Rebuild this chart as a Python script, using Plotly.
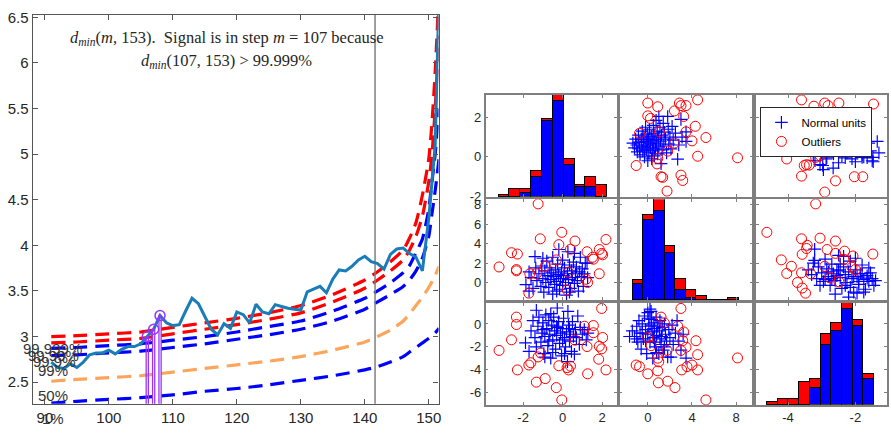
import plotly.graph_objects as go

W, H = 891, 435

# ---------------- left panel: d_min monitoring ----------------
m_steps = list(range(91, 153))
dmin_values = [2.72, 2.66, 2.65, 2.70, 2.66, 2.72, 2.80, 2.82, 2.82, 2.85,
               2.81, 2.86, 2.89, 2.89, 2.92, 3.00, 3.08, 3.23, 3.15, 3.12,
               3.13, 3.28, 3.42, 3.36, 3.22, 3.08, 3.02, 3.14, 3.09, 3.27,
               3.24, 3.15, 3.355, 3.27, 3.25, 3.35, 3.33, 3.31, 3.30, 3.29,
               3.49, 3.52, 3.55, 3.48, 3.63, 3.73, 3.72, 3.77, 3.84, 3.88,
               3.82, 3.80, 3.74, 3.90, 3.96, 3.97, 3.91, 3.87, 3.72, 4.30,
               5.10, 7.90]

env_m = [91, 95, 100, 105, 110, 115, 120, 125, 130, 135, 140, 142, 144, 146,
         147, 148, 149, 150, 150.5, 151, 151.6]
env_99999 = [3.00, 3.01, 3.03, 3.05, 3.10, 3.15, 3.20, 3.26, 3.34, 3.46, 3.62,
             3.71, 3.82, 3.95, 4.08, 4.25, 4.55, 4.95, 5.35, 5.90, 6.80]
env_9999 = [2.93, 2.94, 2.96, 2.98, 3.03, 3.08, 3.13, 3.19, 3.26, 3.38, 3.53,
            3.62, 3.72, 3.84, 3.95, 4.10, 4.32, 4.70, 5.00, 5.50, 6.30]
env_999 = [2.87, 2.88, 2.90, 2.92, 2.96, 3.00, 3.05, 3.11, 3.17, 3.28, 3.42,
           3.50, 3.59, 3.70, 3.78, 3.92, 4.07, 4.40, 4.70, 5.00, 5.50]
env_99 = [2.79, 2.80, 2.82, 2.84, 2.88, 2.92, 2.97, 3.02, 3.08, 3.17, 3.30,
          3.38, 3.46, 3.55, 3.62, 3.72, 3.86, 4.10, 4.35, 4.60, 4.95]
env_50 = [2.51, 2.53, 2.55, 2.57, 2.61, 2.65, 2.69, 2.73, 2.78, 2.85, 2.94,
          3.00, 3.07, 3.17, 3.25, 3.34, 3.43, 3.54, 3.60, 3.67, 3.77]
env_1 = [2.27, 2.29, 2.31, 2.33, 2.36, 2.40, 2.43, 2.47, 2.52, 2.57, 2.635,
         2.67, 2.72, 2.78, 2.83, 2.88, 2.93, 2.98, 3.01, 3.04, 3.09]

env_labels = ["99.999%", "99.99%", "99.9%", "99%", "50%", "1%"]
env_label_y = [2.87, 2.79, 2.73, 2.625, 2.355, 2.27]
env_label_xshift = [-23.5, -18.5, -13.5, -8.5, -8.5, -4.5]
env_label_yshift = [0, 0, 0, 0, 0, -15.5]

signal_steps = [106, 107, 108]
vline_step = 141.6
x_ticks_left = [90, 100, 110, 120, 130, 140, 150]
y_ticks_left = [2.5, 3, 3.5, 4, 4.5, 5, 5.5, 6, 6.5]
y_ticktext_left = ["2.5", "3", "3.5", "4", "4.5", "5", "5.5", "6", "6.5"]

# ---------------- right panel: scatter matrix ----------------
hist1_edges = [-3.26, -2.71, -2.16, -1.61, -1.06, -0.51, 0.04, 0.59, 1.13, 1.68, 2.23]
hist1_normal = [0, 0, 2, 10, 38, 48, 16, 5, 5, 0]
hist1_outlier = [1, 4, 2, 3, 1, 3, 3, 1, 5, 6]

hist2_edges = [-1.41, -0.45, 0.52, 1.48, 2.44, 3.40, 4.36, 5.32, 6.28, 7.24, 8.20]
hist2_normal = [8, 41, 46, 24, 5, 1, 0, 0, 0, 0]
hist2_outlier = [2, 3, 6, 4, 6, 4, 2, 0, 0, 1]

hist3_edges = [-4.64, -4.32, -4.00, -3.68, -3.36, -3.04, -2.72, -2.40, -2.08, -1.77, -1.46]
hist3_normal = [0, 0, 0, 0, 6, 21, 26, 34, 28, 9]
hist3_outlier = [1, 2, 2, 8, 3, 4, 3, 2, 2, 2]

normal_12 = [(-1.35, 0.7), (-1.2, 0.45), (-1.1, 0.9), (-1.0, 0.6), (-0.95, 0.25), (-0.85, 1.1),
             (-0.8, 0.75), (-0.75, 0.4), (-0.7, 0.1), (-0.6, 0.9), (-0.55, 0.55), (-0.5, 1.3),
             (-0.45, 0.3), (-0.4, 0.75), (-0.35, 1.0), (-0.3, 0.0), (-0.25, 0.5), (-0.2, 1.5),
             (-0.15, 0.8), (-0.1, 0.35), (-0.05, 1.15), (0.0, 0.6), (0.0, -0.2), (0.05, 0.9),
             (0.1, 0.2), (0.15, 1.4), (0.2, 0.7), (0.25, 0.45), (0.3, 1.05), (0.35, -0.1),
             (0.4, 0.85), (0.45, 0.3), (0.5, 1.6), (0.5, 0.6), (0.55, 1.2), (0.6, 0.05),
             (0.65, 0.9), (0.7, 0.4), (0.75, 1.85), (0.8, 0.7), (0.85, 1.3), (0.9, 0.15),
             (0.95, 1.0), (1.0, 2.05), (1.0, 0.5), (1.1, 1.5), (1.15, 0.8), (1.2, -0.35),
             (1.25, 1.1), (1.3, 0.35), (1.4, 1.7), (1.45, 0.6), (1.5, 1.25), (1.6, 0.9),
             (1.7, 0.2), (1.8, 2.05), (1.85, 1.4), (1.9, 0.65), (2.0, 1.0), (2.1, 0.4),
             (2.2, 1.55), (2.3, 0.85), (2.5, 1.2), (2.7, -0.12), (2.8, 0.6), (3.0, 1.9),
             (3.1, 1.0), (3.46, 1.27), (3.46, 0.78)]
outlier_12 = [(0.0, 2.73), (0.9, 2.54), (2.86, 2.73), (3.0, 2.6), (3.46, 2.6), (4.51, 2.89),
              (2.41, 2.33), (3.25, 2.05), (0.0, 2.08), (0.24, 1.95), (4.3, 1.55), (3.46, 1.27),
              (1.05, 1.27), (-0.75, 1.19), (5.26, 0.98), (4.0, 0.81), (2.41, 0.70), (1.8, 0.29),
              (4.51, 0.03), (8.12, -0.05), (0.9, -0.08), (-1.05, -0.44), (0.84, -0.36),
              (1.2, -1.01), (1.35, -1.04), (3.0, -0.93), (3.16, -1.2), (1.74, -1.74)]

normal_13 = [(-3.4, 0.3), (-3.3, 0.6), (-3.25, 0.1), (-3.2, -0.2), (-3.15, 0.75), (-3.1, 0.45),
             (-3.0, 0.2), (-2.95, 0.9), (-2.9, 0.55), (-2.85, -0.05), (-2.8, 0.35), (-2.75, 1.2),
             (-2.7, 0.7), (-2.65, 0.15), (-2.6, 0.5), (-2.55, 1.0), (-2.5, 0.3), (-2.45, 0.75),
             (-2.4, 0.05), (-2.35, 1.4), (-2.3, 0.55), (-2.25, 0.2), (-2.2, 0.9), (-2.15, 0.4),
             (-2.1, -0.1), (-2.05, 0.65), (-2.0, 1.1), (-1.95, 0.25), (-1.9, 0.5), (-1.85, 0.8),
             (-1.8, 0.1), (-1.75, 1.3), (-1.7, 0.45), (-1.65, -0.05), (-1.6, 0.7), (-1.55, 0.3),
             (-1.47, -0.25), (-1.35, 0.78), (-1.3, 0.2), (-3.05, -0.4), (-2.95, -0.65),
             (-2.5, -0.3), (-2.3, -0.05), (-2.0, -0.25), (-1.75, 0.0), (-1.5, -0.2),
             (-2.97, -0.44), (-2.66, -0.57), (-2.87, -0.11), (-1.8, -0.03), (-1.48, -0.03)]
outlier_13 = [(-3.6, 2.89), (-3.23, 2.57), (-2.91, 2.73), (-2.81, 2.6), (-2.49, 2.73),
              (-1.46, 2.68), (-4.19, 0.70), (-3.89, 0.26), (-4.04, -0.11), (-3.45, -0.4),
              (-3.37, -0.42), (-3.52, -0.44), (-3.18, -0.03), (-3.04, 0.05), (-3.6, -0.98),
              (-2.91, -1.79), (-2.59, -1.22), (-2.03, -1.01), (-1.78, -1.01), (-3.42, 0.85)]

normal_21 = [(-1.86, -0.23), (-1.7, 1.1), (-1.6, 0.5), (-1.5, -0.6), (-1.4, 2.67), (-1.36, 1.5),
             (-1.3, 0.2), (-1.2, 0.9), (-1.1, -0.4), (-1.05, 1.7), (-1.0, 0.4), (-0.95, -1.0),
             (-0.9, 1.2), (-0.85, 0.0), (-0.8, 2.2), (-0.75, 0.7), (-0.7, -0.5), (-0.65, 1.5),
             (-0.6, 0.3), (-0.55, 1.0), (-0.5, -1.2), (-0.5, 2.6), (-0.45, 0.6), (-0.4, -0.2),
             (-0.35, 1.3), (-0.3, 0.1), (-0.25, 1.9), (-0.2, 0.8), (-0.19, 3.4), (-0.15, -0.7),
             (-0.1, 0.4), (-0.05, 1.1), (0.0, -0.3), (0.0, 2.3), (0.05, 0.7), (0.1, 1.5),
             (0.15, 0.0), (0.2, -1.3), (0.25, 0.9), (0.27, 3.17), (0.3, 0.3), (0.35, 1.8),
             (0.4, -0.6), (0.45, 1.2), (0.5, 0.5), (0.55, 2.1), (0.6, -0.1), (0.65, 0.9),
             (0.7, 1.6), (0.75, 0.2), (0.8, -0.9), (0.85, 1.1), (0.9, 2.6), (0.95, 0.6),
             (1.0, 1.4), (1.05, -0.4), (1.1, 0.9), (1.15, 2.0), (1.24, 2.0), (1.27, 0.5),
             (-1.0, 2.5), (0.6, 3.0), (-0.3, -0.9), (0.35, -1.0), (-1.7, -0.9)]
outlier_21 = [(-3.22, 1.6), (-2.59, 3.07), (-2.29, 2.93), (-2.34, 1.33), (-2.34, 1.2),
              (-1.66, 0.9), (-1.71, -1.1), (-1.24, 8.1), (-1.13, 4.5), (-1.33, 0.9),
              (-0.88, 1.67), (-0.32, 2.33), (-0.19, 3.9), (-0.04, 5.17), (0.4, 3.43),
              (0.63, 4.27), (0.23, -0.77), (0.3, 1.07), (1.24, 3.17), (1.19, 0.33),
              (1.27, 0.0), (1.56, 2.4), (1.52, 2.6), (1.86, 3.4), (1.98, 3.0), (2.03, 2.85),
              (2.2, 4.43), (1.86, 0.9)]

normal_23 = [(-3.4, 1.3), (-3.3, 0.8), (-3.25, 2.0), (-3.21, 3.43), (-3.21, 2.27), (-3.15, 0.4),
             (-3.1, 1.6), (-3.0, 1.0), (-2.95, 0.1), (-2.9, 2.4), (-2.85, 1.4), (-2.8, 0.6),
             (-2.75, -0.3), (-2.7, 1.9), (-2.65, 0.9), (-2.6, 0.2), (-2.55, 1.2), (-2.5, 2.8),
             (-2.45, 0.5), (-2.4, -0.6), (-2.35, 1.6), (-2.3, 0.8), (-2.25, 0.0), (-2.2, 1.1),
             (-2.15, 2.2), (-2.1, 0.4), (-2.05, -1.0), (-2.0, 1.3), (-1.95, 0.6), (-1.9, -0.2),
             (-1.85, 0.9), (-1.8, 1.8), (-1.75, 0.3), (-1.7, -0.7), (-1.65, 0.7), (-1.6, 0.1),
             (-1.55, 1.0), (-1.5, 0.4), (-1.45, -0.3), (-1.4, 0.2), (-2.6, -1.2), (-2.2, -1.5),
             (-1.95, -1.1), (-2.45, 1.9), (-2.7, 0.4), (-2.3, -0.3), (-2.05, 0.6), (-1.8, 0.9),
             (-2.5, 1.3), (-2.9, 0.3), (-3.05, -0.3), (-2.35, 2.7), (-2.0, 2.5), (-1.6, 1.5),
             (-2.15, -0.5), (-1.75, -1.0), (-2.8, 1.1), (-2.55, 0.7), (-1.9, 0.1), (-1.65, 0.45)]
outlier_23 = [(-4.63, 5.17), (-4.2, 2.33), (-3.9, 1.67), (-4.04, 0.93), (-3.72, 0.0),
              (-3.58, -0.57), (-3.48, -1.1), (-3.58, 2.9), (-3.6, 4.5), (-3.43, 3.83),
              (-3.45, 3.5), (-3.6, 1.0), (-3.33, 0.9), (-3.18, 8.1), (-3.05, 4.57),
              (-2.84, 3.4), (-2.91, 1.67), (-2.59, 4.27), (-2.59, 3.0), (-2.32, 3.23),
              (-2.07, 2.73), (-2.1, 1.57), (-2.0, 1.33), (-2.76, 0.5), (-2.49, 0.07),
              (-2.34, 2.4), (-1.48, 2.93)]

normal_31 = [(-1.88, -1.65), (-1.7, -2.4), (-1.6, -0.6), (-1.5, 0.3), (-1.4, -1.2), (-1.33, -2.0),
             (-1.33, 1.2), (-1.25, -0.2), (-1.2, 0.6), (-1.1, -1.6), (-1.05, -0.8), (-1.0, 0.1),
             (-0.95, -2.6), (-0.9, -1.1), (-0.85, 0.8), (-0.8, -0.4), (-0.75, -1.9), (-0.7, 0.3),
             (-0.65, -0.9), (-0.6, -3.0), (-0.55, -0.1), (-0.5, -1.4), (-0.45, 0.6), (-0.4, -0.6),
             (-0.35, -2.2), (-0.3, -1.0), (-0.27, 1.4), (-0.25, -0.3), (-0.2, 0.2), (-0.15, -1.7),
             (-0.1, -0.8), (-0.05, -2.8), (0.0, -0.4), (0.05, 0.5), (0.1, -1.2), (0.15, -2.0),
             (0.2, -0.7), (0.25, -3.3), (0.27, 1.1), (0.3, -0.1), (0.35, -1.5), (0.4, -0.9),
             (0.45, -2.4), (0.5, 0.2), (0.55, -1.1), (0.6, -2.65), (0.65, -0.5), (0.7, -1.2),
             (0.77, 0.7), (0.85, -1.8), (0.9, -0.3), (1.0, -0.9), (1.1, -0.5), (1.2, -1.4),
             (1.28, -0.8), (-0.9, -2.9), (-0.5, -2.5), (0.1, -2.6), (-1.0, -0.5), (-0.6, 0.9),
             (-0.3, -0.2), (0.0, -1.4), (-0.7, -1.5), (0.35, -0.4)]
outlier_31 = [(-3.22, -2.32), (-2.34, 0.6), (-2.34, -0.05), (-2.59, -1.39), (-2.29, -4.03),
              (-1.71, -3.6), (-1.61, -3.4), (-1.24, -2.89), (-1.11, -2.55), (-1.33, -5.1),
              (-0.88, -4.79), (-0.32, -5.58), (-0.04, -6.66), (-0.19, -3.66), (0.23, -3.83),
              (0.3, -4.03), (0.4, -3.7), (0.63, -1.42), (1.11, -0.2), (1.24, -1.98),
              (1.27, -4.37), (1.56, -0.14), (1.56, -0.77), (1.86, -1.96), (1.98, -2.18),
              (2.03, -1.19), (1.83, -3.09), (1.98, 1.36), (2.2, -4.03)]

normal_32 = [(-1.65, -1.1), (-1.4, -0.6), (-1.2, -1.1), (-1.0, -0.2), (-0.9, -1.6), (-0.8, 0.3),
             (-0.7, -0.8), (-0.6, -2.2), (-0.5, 0.0), (-0.4, -1.3), (-0.3, 0.7), (-0.2, -0.5),
             (-0.1, -2.6), (0.0, -0.9), (0.0, 1.0), (0.1, -0.2), (0.2, -1.6), (0.3, 1.1),
             (0.35, 0.4), (0.4, -0.7), (0.45, -3.0), (0.5, -1.2), (0.55, 0.1), (0.6, -0.4),
             (0.7, -2.0), (0.75, 0.6), (0.8, -1.0), (0.9, -0.2), (1.0, -2.6), (1.05, -0.6),
             (1.1, 0.3), (1.2, -1.8), (1.25, -1.1), (1.3, -0.3), (1.4, -2.3), (1.5, 0.0),
             (1.6, -0.9), (1.7, -1.5), (1.8, -2.9), (1.9, -0.5), (2.0, -1.2), (2.1, -2.9),
             (2.2, -0.1), (2.3, -1.8), (2.5, -0.8), (2.65, 0.3), (2.8, -1.5), (3.0, -2.3),
             (3.2, -0.9), (3.46, -3.0), (-0.2, -1.5), (0.3, -0.1), (0.6, -1.6), (-0.5, -0.8),
             (0.1, 0.5), (1.1, -1.3), (-1.0, -1.3), (0.8, -2.5), (0.2, 1.3), (1.5, -2.0)]
outlier_32 = [(-1.05, -3.6), (-0.75, -3.74), (0.0, -4.37), (0.9, -4.11), (0.99, -3.32),
              (0.96, -5.16), (0.9, -3.0), (0.0, -1.19), (0.3, -1.9), (1.2, 0.6), (1.5, 0.09),
              (1.8, -5.02), (1.74, -2.32), (2.46, -5.58), (2.71, -0.2), (3.0, 1.36),
              (3.25, -0.7), (3.16, -1.47), (3.46, -2.04), (3.0, -2.32), (3.07, -4.03),
              (3.55, -3.74), (4.0, -3.6), (4.36, -1.47), (4.51, -2.69), (4.51, -4.03),
              (5.26, -6.66), (8.12, -2.98)]

# ---------------- styling constants ----------------
C_RED = "#ff0000"
C_BLUE = "#0000ff"
C_ORANGE = "#fba65c"
C_LINE = "#1a7db8"
C_PURPLE = "#9933ff"
TXT = "#262626"
SANS = "Liberation Sans, Arial, sans-serif"
SERIF = "Liberation Serif, Times New Roman, serif"

fig = go.Figure()

# envelopes
for vals, col in [(env_99999, C_RED), (env_9999, C_RED), (env_999, C_BLUE),
                  (env_99, C_BLUE), (env_50, C_ORANGE), (env_1, C_BLUE)]:
    fig.add_trace(go.Scatter(x=env_m, y=vals, mode="lines", xaxis="x", yaxis="y",
                             line=dict(color=col, width=3.2, dash="14px,8px",
                                       shape="spline", smoothing=0.6),
                             showlegend=False, hoverinfo="skip"))

# vertical reference line
fig.add_trace(go.Scatter(x=[vline_step, vline_step], y=[2.0, 7.0], mode="lines",
                         xaxis="x", yaxis="y", line=dict(color="#7f7f7f", width=1.5),
                         showlegend=False, hoverinfo="skip"))

# monitored d_min
fig.add_trace(go.Scatter(x=m_steps, y=dmin_values, mode="lines", xaxis="x", yaxis="y",
                         line=dict(color=C_LINE, width=3), showlegend=False))

# signal stems and circles
sig_vals = [dmin_values[m_steps.index(s)] for s in signal_steps]
for s, v in zip(signal_steps, sig_vals):
    fig.add_trace(go.Scatter(x=[s - 0.17, s - 0.17, s + 0.17, s + 0.17], y=[2.0, v, v, 2.0],
                             mode="lines", xaxis="x", yaxis="y",
                             line=dict(color=C_PURPLE, width=1.3),
                             showlegend=False, hoverinfo="skip"))
fig.add_trace(go.Scatter(x=signal_steps, y=sig_vals, mode="markers", xaxis="x", yaxis="y",
                         marker=dict(symbol="circle-open", size=10, color=C_PURPLE,
                                     line=dict(width=1.5, color=C_PURPLE)),
                         showlegend=False))

annotations = []
for lab, yv, xs, ys in zip(env_labels, env_label_y, env_label_xshift, env_label_yshift):
    annotations.append(dict(x=90, y=yv, xref="x", yref="y", text=lab, showarrow=False,
                            xanchor="left", yanchor="middle", xshift=xs, yshift=ys,
                            font=dict(family=SANS, size=15, color="#333333")))
annotations.append(dict(x=118.44, y=6.27, xref="x", yref="y", showarrow=False,
                        text="<i>d</i><sub><i>min</i></sub>(<i>m</i>, 153).  Signal is in step <i>m</i> = 107 because",
                        font=dict(family=SERIF, size=16.5, color=TXT)))
annotations.append(dict(x=118.44, y=6.02, xref="x", yref="y", showarrow=False,
                        text="<i>d</i><sub><i>min</i></sub>(107, 153) &gt; 99.999%",
                        font=dict(family=SERIF, size=16.5, color=TXT)))

layout = dict(
    width=W, height=H, margin=dict(l=0, r=0, t=0, b=0),
    paper_bgcolor="white", plot_bgcolor="white",
    barmode="stack", bargap=0,
    annotations=annotations,
    legend=dict(x=763 / W, y=1 - 104 / H, xanchor="left", yanchor="top",
                bgcolor="white", bordercolor=TXT, borderwidth=1,
                font=dict(family=SANS, size=11.5, color="black"), tracegroupgap=0),
    xaxis=dict(domain=[32.7 / W, 440 / W], range=[88.08, 151.52], anchor="y",
               tickvals=x_ticks_left, ticks="inside", ticklen=5, tickcolor="#555555",
               showline=True, linecolor="#555555", linewidth=1.2, mirror="ticks",
               showgrid=False, zeroline=False,
               tickfont=dict(family=SANS, size=15, color=TXT)),
    yaxis=dict(domain=[1 - 410 / H, 1 - 9 / H], range=[2.263, 6.529], anchor="x",
               tickvals=y_ticks_left, ticktext=y_ticktext_left, ticks="inside", ticklen=5,
               tickcolor="#555555", showline=True, linecolor="#555555", linewidth=1.2,
               mirror="ticks", showgrid=False, zeroline=False,
               tickfont=dict(family=SANS, size=15, color=TXT)),
)

col_dom = [[487.3 / W, 619.3 / W], [621.7 / W, 755 / W], [758.3 / W, 890 / W]]
row_dom = [[1 - 196.7 / H, 1 - 91.7 / H], [1 - 303.3 / H, 1 - 199.3 / H], [1 - 411 / H, 1 - 306 / H]]
col_range = [[-3.9, 2.77], [-2.55, 9.47], [-4.96, -1.06]]
row_range = [[-2.03, 3.14], [-1.83, 8.57], [-7.08, 1.85]]
col_ticks = [[-2, 0, 2], [0, 4, 8], [-4, -2]]
row_ticks = [[-2, 0, 2], [0, 2, 4, 6, 8], [-6, -4, -2, 0]]


def tick_text(vals):
    return [str(v) for v in vals]


def panel_axis(dom, rng, tv, show, anchor):
    return dict(domain=dom, range=rng, tickvals=tv, ticktext=tick_text(tv),
                showticklabels=show, ticks="inside", ticklen=3, tickcolor="#7f7f7f",
                showline=True, linecolor="#7f7f7f", linewidth=1.6, mirror="ticks",
                showgrid=False, zeroline=False, anchor=anchor,
                tickfont=dict(family=SANS, size=13, color=TXT))


for r in range(3):
    for c in range(3):
        k = 2 + 3 * r + c
        layout[f"xaxis{k}"] = panel_axis(col_dom[c], col_range[c], col_ticks[c], r == 2, f"y{k}")
        layout[f"yaxis{k}"] = panel_axis(row_dom[r], row_range[r], row_ticks[r], c == 0, f"x{k}")

hist_specs = [(2, 11, hist1_edges, hist1_normal, hist1_outlier, 51.2),
              (6, 12, hist2_edges, hist2_normal, hist2_outlier, 52.0),
              (10, 13, hist3_edges, hist3_normal, hist3_outlier, 36.0)]
for base, ov, edges, nrm, out, top in hist_specs:
    layout[f"yaxis{ov}"] = dict(overlaying=f"y{base}", anchor=f"x{base}", range=[0, top],
                                visible=False, showgrid=False, zeroline=False)
    centers = [(a + b) / 2 for a, b in zip(edges[:-1], edges[1:])]
    widths = [b - a for a, b in zip(edges[:-1], edges[1:])]
    fig.add_trace(go.Scatter(x=[None], y=[None], xaxis=f"x{base}", yaxis=f"y{base}",
                             showlegend=False, hoverinfo="skip"))
    fig.add_trace(go.Bar(x=centers, y=nrm, width=widths, xaxis=f"x{base}", yaxis=f"y{ov}",
                         marker=dict(color=C_BLUE, line=dict(color="black", width=1)),
                         showlegend=False))
    fig.add_trace(go.Bar(x=centers, y=out, width=widths, xaxis=f"x{base}", yaxis=f"y{ov}",
                         marker=dict(color=C_RED, line=dict(color="black", width=1)),
                         showlegend=False))

scatter_panels = [(0, 1, normal_12, outlier_12), (0, 2, normal_13, outlier_13),
                  (1, 0, normal_21, outlier_21), (1, 2, normal_23, outlier_23),
                  (2, 0, normal_31, outlier_31), (2, 1, normal_32, outlier_32)]
for i, (r, c, nrm, out) in enumerate(scatter_panels):
    k = 2 + 3 * r + c
    fig.add_trace(go.Scatter(x=[p[0] for p in nrm], y=[p[1] for p in nrm], mode="markers",
                             xaxis=f"x{k}", yaxis=f"y{k}", name="Normal units",
                             legendgroup="n", showlegend=(i == 1),
                             marker=dict(symbol="cross-thin", size=9, color=C_BLUE,
                                         line=dict(color=C_BLUE, width=1.2))))
    fig.add_trace(go.Scatter(x=[p[0] for p in out], y=[p[1] for p in out], mode="markers",
                             xaxis=f"x{k}", yaxis=f"y{k}", name="Outliers",
                             legendgroup="o", showlegend=(i == 1),
                             marker=dict(symbol="circle-open", size=10, color=C_RED,
                                         line=dict(color=C_RED, width=1))))

fig.update_layout(**layout)
fig.write_html("out.html")
